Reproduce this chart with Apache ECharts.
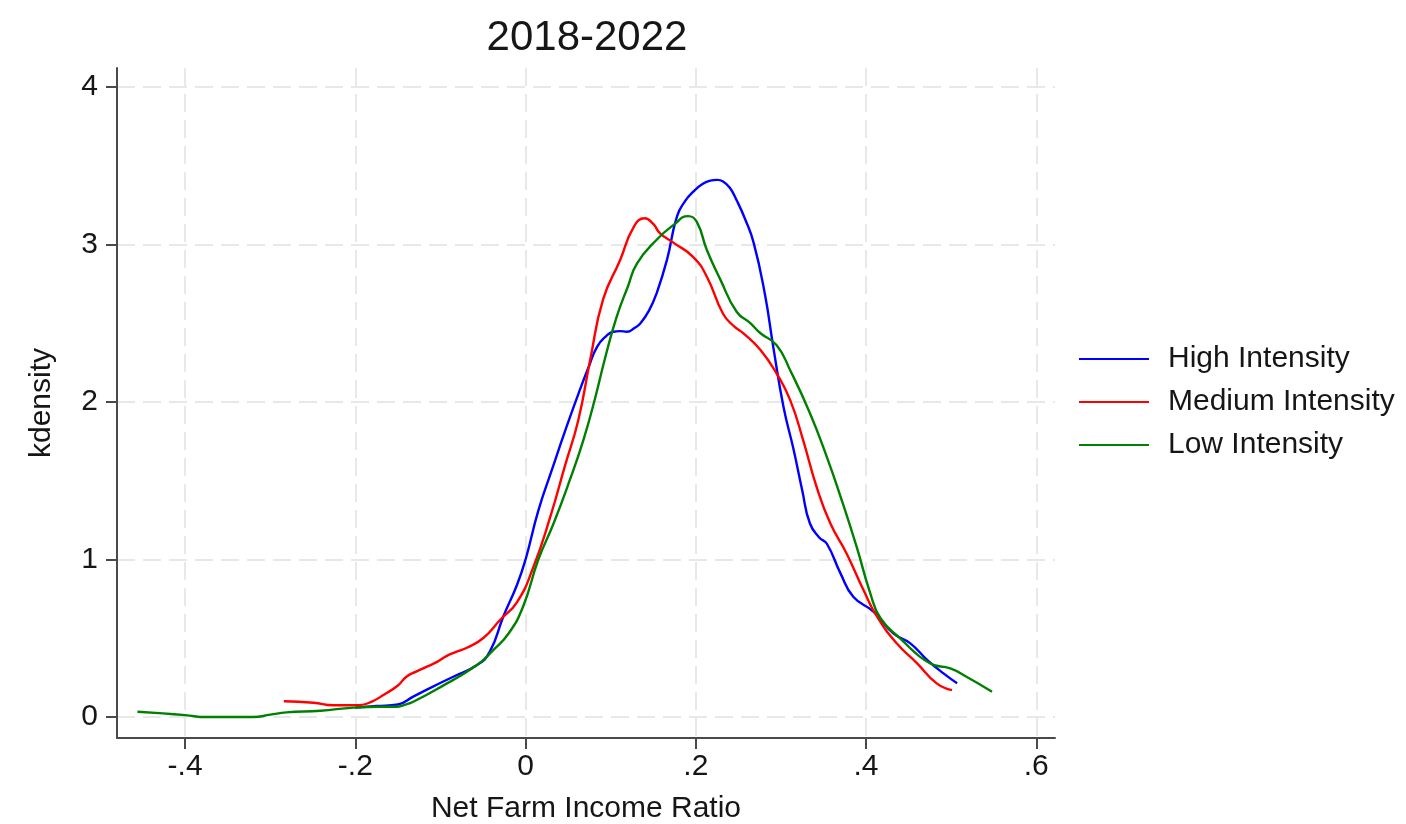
<!DOCTYPE html>
<html>
<head>
<meta charset="utf-8">
<title>2018-2022</title>
<script src="https://cdn.jsdelivr.net/npm/echarts@6/dist/echarts.min.js"></script>
<style>
  html, body { margin: 0; padding: 0; background: #ffffff; }
  #chart { width: 1406px; height: 824px; }
</style>
</head>
<body>
<div id="chart"></div>
<script>
// Kernel density of the net farm income ratio, by intensity group
const seriesNames = ['High Intensity', 'Medium Intensity', 'Low Intensity'];
const seriesColors = ['#0000ff', '#ff0000', '#008000'];

const highX = [-0.200, -0.175, -0.150, -0.132, -0.110, -0.085, -0.057, -0.042, -0.026, -0.010, 0.000,
  0.015, 0.031, 0.048, 0.064, 0.074, 0.084, 0.095, 0.103, 0.111, 0.119, 0.128, 0.135, 0.145, 0.154,
  0.166, 0.178, 0.188, 0.197, 0.207, 0.217, 0.225, 0.232, 0.240, 0.248, 0.258, 0.268, 0.281, 0.291,
  0.303, 0.315, 0.325, 0.334, 0.345, 0.354, 0.370, 0.385, 0.409, 0.432, 0.452, 0.472, 0.491, 0.507];
const highY = [0.06, 0.07, 0.08, 0.13, 0.19, 0.256, 0.33, 0.415, 0.64, 0.84, 1.0,
  1.31, 1.57, 1.84, 2.08, 2.22, 2.35, 2.42, 2.446, 2.45, 2.446, 2.47, 2.50, 2.58, 2.69,
  2.90, 3.18, 3.28, 3.335, 3.38, 3.405, 3.41, 3.40, 3.36, 3.28, 3.16, 3.01, 2.69, 2.35,
  1.97, 1.695, 1.44, 1.23, 1.14, 1.10, 0.912, 0.764, 0.668, 0.531, 0.468, 0.362, 0.277, 0.214];

const mediumX = [-0.284, -0.249, -0.226, -0.195, -0.180, -0.167, -0.150, -0.140, -0.128, -0.116, -0.104,
  -0.093, -0.081, -0.069, -0.050, -0.030, -0.010, 0.009, 0.029, 0.046, 0.062, 0.076, 0.091, 0.111,
  0.127, 0.140, 0.150, 0.158, 0.174, 0.197, 0.213, 0.232, 0.245, 0.256, 0.276, 0.295, 0.311, 0.326,
  0.342, 0.358, 0.377, 0.397, 0.413, 0.436, 0.460, 0.483, 0.501];
const mediumY = [0.10, 0.091, 0.075, 0.076, 0.10, 0.14, 0.20, 0.256, 0.29, 0.32, 0.35,
  0.387, 0.415, 0.44, 0.50, 0.616, 0.73, 0.95, 1.27, 1.59, 1.886, 2.27, 2.65, 2.90,
  3.11, 3.166, 3.13, 3.07, 3.01, 2.92, 2.795, 2.56, 2.48, 2.436, 2.33, 2.18, 2.01, 1.76,
  1.46, 1.23, 1.04, 0.806, 0.637, 0.468, 0.341, 0.214, 0.171];

const lowX = [-0.456, -0.426, -0.400, -0.375, -0.350, -0.320, -0.300, -0.281, -0.241, -0.202, -0.170,
  -0.151, -0.143, -0.132, -0.100, -0.057, -0.038, -0.020, -0.003, 0.015, 0.033, 0.052, 0.068, 0.082,
  0.093, 0.107, 0.120, 0.131, 0.154, 0.174, 0.191, 0.201, 0.213, 0.229, 0.248, 0.264, 0.276, 0.295,
  0.311, 0.334, 0.354, 0.370, 0.389, 0.405, 0.417, 0.440, 0.475, 0.499, 0.518, 0.548];
const lowY = [0.034, 0.023, 0.012, 0.0, 0.0, 0.0, 0.015, 0.03, 0.04, 0.06, 0.065,
  0.065, 0.076, 0.097, 0.19, 0.33, 0.425, 0.53, 0.70, 1.0, 1.23, 1.505, 1.76, 2.03,
  2.27, 2.54, 2.73, 2.88, 3.03, 3.124, 3.18, 3.145, 2.965, 2.775, 2.573, 2.50, 2.436, 2.36,
  2.20, 1.93, 1.65, 1.40, 1.08, 0.785, 0.627, 0.50, 0.341, 0.309, 0.256, 0.161];

const xTickValues = [-0.4, -0.2, 0, 0.2, 0.4, 0.6];
const xTickLabels = ['-.4', '-.2', '0', '.2', '.4', '.6'];
const yTickValues = [0, 1, 2, 3, 4];
const yTickLabels = ['0', '1', '2', '3', '4'];

const FONT = '"Liberation Sans", Arial, Helvetica, sans-serif';
const TEXT = '#161616';

function pairs(xs, ys) {
  return xs.map((x, i) => [x, ys[i]]);
}
function labelFor(values, labels) {
  return (v) => {
    const i = values.findIndex((t) => Math.abs(t - v) < 1e-9);
    return i >= 0 ? labels[i] : '';
  };
}

const gridLine = { show: true, lineStyle: { color: '#e8e8e8', width: 2, type: [18, 8] } };
const axisLineStyle = { show: true, onZero: false, lineStyle: { color: '#4a4a4a', width: 2 } };

const chart = echarts.init(document.getElementById('chart'), null, { renderer: 'canvas' });
chart.setOption({
  backgroundColor: '#ffffff',
  animation: false,
  title: {
    text: '2018-2022',
    left: 582,
    top: 12,
    textAlign: 'center',
    textStyle: { fontFamily: FONT, fontSize: 42, fontWeight: 'normal', color: TEXT }
  },
  grid: { left: 117, right: 351, top: 68, bottom: 86, outerBoundsMode: 'none' },
  legend: {
    orient: 'vertical',
    left: 1079,
    top: 344,
    padding: 0,
    itemWidth: 70,
    itemHeight: 2,
    itemGap: 13,
    icon: 'rect',
    data: seriesNames,
    textStyle: { fontFamily: FONT, fontSize: 30, color: TEXT, lineHeight: 30, padding: [0, 0, 0, 14] }
  },
  xAxis: {
    type: 'value',
    min: -0.48,
    max: 0.622,
    name: 'Net Farm Income Ratio',
    nameLocation: 'middle',
    nameGap: 56,
    nameTextStyle: { fontFamily: FONT, fontSize: 30, color: TEXT },
    axisLine: axisLineStyle,
    axisTick: { show: true, inside: false, length: 11, lineStyle: { color: '#4a4a4a', width: 2 }, customValues: xTickValues },
    axisLabel: { fontFamily: FONT, fontSize: 30, color: TEXT, margin: 14, customValues: xTickValues, formatter: labelFor(xTickValues, xTickLabels) },
    splitLine: gridLine
  },
  yAxis: {
    type: 'value',
    min: -0.133,
    max: 4.12,
    name: 'kdensity',
    nameLocation: 'middle',
    nameGap: 60,
    nameTextStyle: { fontFamily: FONT, fontSize: 30, color: TEXT },
    axisLine: axisLineStyle,
    axisTick: { show: true, inside: false, length: 11, lineStyle: { color: '#4a4a4a', width: 2 }, customValues: yTickValues },
    axisLabel: { fontFamily: FONT, fontSize: 30, color: TEXT, margin: 19, customValues: yTickValues, formatter: labelFor(yTickValues, yTickLabels) },
    splitLine: gridLine
  },
  series: [
    { name: seriesNames[0], data: pairs(highX, highY) },
    { name: seriesNames[1], data: pairs(mediumX, mediumY) },
    { name: seriesNames[2], data: pairs(lowX, lowY) }
  ].map((s, i) => ({
    type: 'line',
    name: s.name,
    data: s.data,
    smooth: 0.5,
    showSymbol: false,
    symbol: 'none',
    color: seriesColors[i],
    lineStyle: { color: seriesColors[i], width: 2.4 },
    itemStyle: { color: seriesColors[i] }
  }))
});
</script>
</body>
</html>
